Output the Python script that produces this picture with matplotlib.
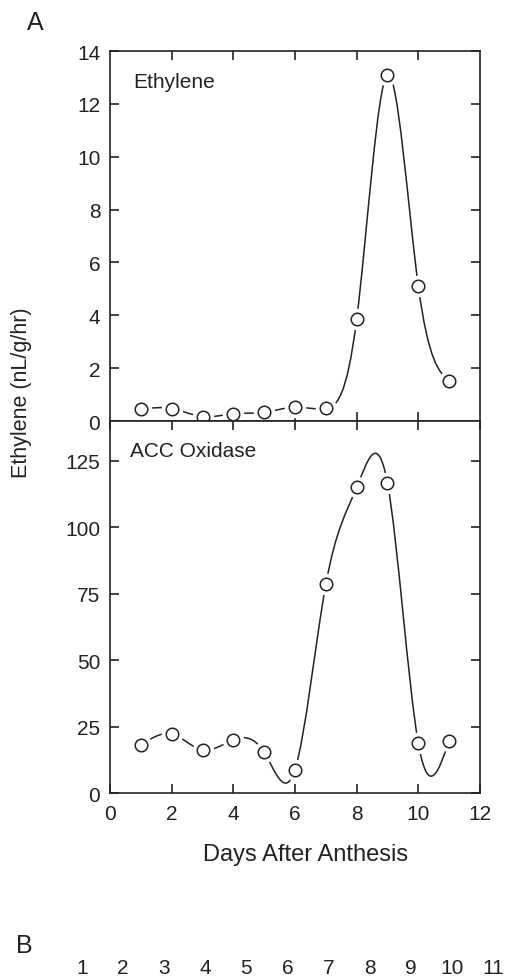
import numpy as np
import matplotlib
matplotlib.use("Agg")
import matplotlib.pyplot as plt
from matplotlib.path import Path
from matplotlib.patches import PathPatch

# values
days = [1, 2, 3, 4, 5, 6, 7, 8, 9, 10, 11]
ethylene = [0.45, 0.47, 0.17, 0.27, 0.33, 0.52, 0.48, 3.85, 13.1, 5.1, 1.5]
acc_oxidase = [18.0, 22.2, 16.2, 20.0, 15.3, 8.8, 78.5, 115.0, 116.6, 18.7, 19.7]
lane_labels = ["1", "2", "3", "4", "5", "6", "7", "8", "9", "10", "11"]

W, H = 510, 979
INK = "#222222"

plt.rcParams["font.family"] = ["Liberation Sans", "DejaVu Sans"]
plt.rcParams["text.color"] = INK
plt.rcParams["axes.edgecolor"] = INK
plt.rcParams["xtick.color"] = INK
plt.rcParams["ytick.color"] = INK


def spline_path(x, y):
    """natural cubic spline through the points, handed to matplotlib as bezier segments"""
    x = np.asarray(x, float)
    y = np.asarray(y, float)
    n = len(x)
    h = np.diff(x)
    A = np.zeros((n, n))
    b = np.zeros(n)
    A[0, 0] = A[-1, -1] = 1.0
    for i in range(1, n - 1):
        A[i, i - 1] = h[i - 1]
        A[i, i] = 2 * (h[i - 1] + h[i])
        A[i, i + 1] = h[i]
        b[i] = 6 * ((y[i + 1] - y[i]) / h[i] - (y[i] - y[i - 1]) / h[i - 1])
    M = np.linalg.solve(A, b)
    verts = [(x[0], y[0])]
    codes = [Path.MOVETO]
    for i in range(n - 1):
        s = (y[i + 1] - y[i]) / h[i]
        d0 = s - h[i] * (2 * M[i] + M[i + 1]) / 6
        d1 = s + h[i] * (M[i] + 2 * M[i + 1]) / 6
        verts += [(x[i] + h[i] / 3, y[i] + d0 * h[i] / 3),
                  (x[i + 1] - h[i] / 3, y[i + 1] - d1 * h[i] / 3),
                  (x[i + 1], y[i + 1])]
        codes += [Path.CURVE4] * 3
    return Path(verts, codes)


def draw_series(ax, x, y):
    ax.add_patch(PathPatch(spline_path(x, y), fill=False, edgecolor=INK, lw=1.1, zorder=2))
    # white disks open a small gap in the curve around each point
    ax.plot(x, y, ls="none", marker="o", ms=15.5, mfc="white", mec="none", zorder=2.2, clip_on=False)
    ax.plot(x, y, ls="none", marker="o", ms=9, mfc="none", mec=INK, mew=1.1, zorder=3, clip_on=False)


def style_axis(ax):
    for sp in ax.spines.values():
        sp.set_linewidth(1.2)
    ax.tick_params(which="both", direction="in", top=True, right=True, length=6.5, width=1.2,
                   labelsize=15, pad=7)


fig = plt.figure(figsize=(W / 100, H / 100), dpi=100)
ax_top = fig.add_axes([110 / W, 1 - 422 / H, 370 / W, 370 / H])
ax_bot = fig.add_axes([110 / W, 1 - 794 / H, 370 / W, 372 / H])

# ethylene production
draw_series(ax_top, days, ethylene)
ax_top.set_xlim(0, 12)
ax_top.set_ylim(0, 14)
ax_top.set_xticks([2, 4, 6, 8, 10])
ax_top.set_yticks(range(0, 15, 2))
style_axis(ax_top)
ax_top.tick_params(axis="x", labelbottom=False)

# ACC oxidase activity
draw_series(ax_bot, days, acc_oxidase)
ax_bot.set_xlim(0, 12)
ax_bot.set_ylim(0, 140)
ax_bot.set_xticks(range(0, 13, 2))
ax_bot.set_yticks(range(0, 126, 25))
style_axis(ax_bot)
ax_bot.tick_params(axis="x", pad=8)


def ftext(px, py, s, **kw):
    fig.text(px / W, 1 - py / H, s, **kw)


ftext(133, 83, "Ethylene", fontsize=15, va="center", ha="left")
ftext(130, 452, "ACC Oxidase", fontsize=15, va="center", ha="left")
ftext(22, 393, "Ethylene (nL/g/hr)", fontsize=15.5, rotation=90, va="center", ha="center")
ftext(306, 855, "Days After Anthesis", fontsize=17, va="center", ha="center")
ftext(35, 23, "A", fontsize=18, va="center", ha="center")
ftext(24, 946, "B", fontsize=18, va="center", ha="center")

for px, lab in zip(np.linspace(82, 493, len(lane_labels)), lane_labels):
    ftext(px, 969, lab, fontsize=15, va="center", ha="center")

fig.savefig("out.png", dpi=100)
